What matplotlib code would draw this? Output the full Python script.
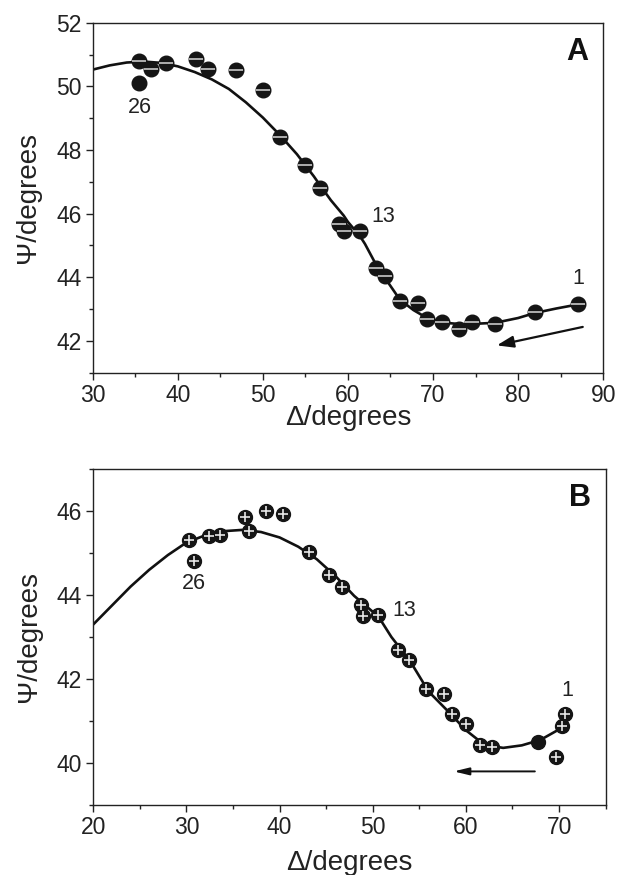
import matplotlib
matplotlib.use("Agg")
import matplotlib.pyplot as plt
from matplotlib.ticker import MultipleLocator

plt.rcParams['font.family'] = ['Liberation Sans', 'DejaVu Sans']

# panel A: measured points (Delta, Psi) in degrees
delta_a = [35.5, 36.9, 38.6, 42.1, 43.5, 46.9, 50.0, 52.0, 54.9, 56.7, 58.9, 59.5,
           61.4, 63.3, 64.3, 66.1, 68.2, 69.3, 71.0, 73.0, 74.6, 77.3, 82.0, 87.1]
psi_a = [50.81, 50.55, 50.73, 50.87, 50.55, 50.52, 49.89, 48.42, 47.53, 46.82, 45.68, 45.47,
         45.44, 44.29, 44.04, 43.26, 43.18, 42.69, 42.61, 42.38, 42.61, 42.52, 42.92, 43.15]
solid_a = (35.5, 50.11)

fit_delta_a = [30.2, 32, 34, 36, 38, 40, 42, 44, 46, 48, 50, 52, 54, 56, 56.7, 58, 59.5, 60,
               61.4, 62, 63.3, 64.3, 66.1, 67.7, 69.3, 71.1, 73.5, 77.3, 80, 82, 84.5, 87.1]
fit_psi_a = [50.54, 50.66, 50.75, 50.78, 50.74, 50.63, 50.45, 50.22, 49.92, 49.5, 49.02, 48.47,
             47.87, 47.17, 46.9, 46.42, 45.94, 45.74, 45.3, 45.05, 44.4, 44.0, 43.3, 42.97,
             42.72, 42.58, 42.52, 42.57, 42.72, 42.88, 43.02, 43.15]

# panel B
delta_b = [30.3, 30.8, 32.4, 33.6, 36.3, 36.7, 38.5, 40.35, 43.2, 45.3, 46.7, 48.7, 49.0,
           50.6, 52.7, 53.9, 55.7, 57.6, 58.5, 60.0, 61.5, 62.8, 69.7, 70.3, 70.6]
psi_b = [45.30, 44.80, 45.40, 45.44, 45.86, 45.52, 46.00, 45.94, 45.02, 44.48, 44.18, 43.77, 43.50,
         43.52, 42.70, 42.46, 41.76, 41.64, 41.16, 40.92, 40.42, 40.38, 40.14, 40.88, 41.16]
solid_b = (67.7, 40.5)

fit_delta_b = [20, 22, 24, 26, 28, 30, 32, 34, 36, 38, 40, 42, 44, 46, 48, 50, 51, 52, 54,
               56, 58, 60, 62, 64, 66, 68, 70, 70.8]
fit_psi_b = [43.3, 43.75, 44.2, 44.6, 44.95, 45.25, 45.42, 45.52, 45.55, 45.5, 45.37, 45.15,
             44.85, 44.45, 43.98, 43.6, 43.35, 43.0, 42.43, 41.7, 41.25, 40.78, 40.43, 40.36,
             40.42, 40.55, 40.8, 41.0]

fig = plt.figure(figsize=(6.18, 8.75), dpi=100)
ax_a = fig.add_axes([0.150, 0.574, 0.826, 0.400])
ax_b = fig.add_axes([0.151, 0.080, 0.829, 0.384])

INK = '#222222'


def style(ax, xlim, ylim, xmaj, xmin, ymaj, ymin, xpad):
    ax.set_xlim(*xlim)
    ax.set_ylim(*ylim)
    ax.xaxis.set_major_locator(MultipleLocator(xmaj))
    ax.xaxis.set_minor_locator(MultipleLocator(xmin))
    ax.yaxis.set_major_locator(MultipleLocator(ymaj))
    ax.yaxis.set_minor_locator(MultipleLocator(ymin))
    ax.tick_params(which='major', direction='out', length=5, width=1.0, labelsize=16.5,
                   colors=INK, pad=3)
    ax.tick_params(which='minor', direction='out', length=3, width=1.0, colors=INK)
    for sp in ax.spines.values():
        sp.set_linewidth(1.0)
        sp.set_color(INK)
    ax.set_xlabel('\u0394/degrees', fontsize=20, color=INK, labelpad=xpad)
    ax.set_ylabel('\u03a8/degrees', fontsize=20, color=INK, labelpad=11)


def dots(ax, xs, ys, inner, size):
    ax.plot(xs, ys, 'o', ms=size, color='#151515', mec='#151515', zorder=3)
    if inner == '_':
        ax.plot(xs, ys, '_', ms=size, mew=1.3, color='#bbbbbb', zorder=4)
    else:
        ax.plot(xs, ys, '+', ms=size * 0.7, mew=1.2, color='#e8e8e8', zorder=4)


# --- A ---
style(ax_a, (30, 90), (41, 52), 10, 5, 2, 1, xpad=-1)
ax_a.plot(fit_delta_a, fit_psi_a, '-', color='#111111', lw=1.9, zorder=2)
dots(ax_a, delta_a, psi_a, '_', 10.5)
ax_a.plot(*solid_a, 'o', ms=10.5, color='#151515', zorder=3)
ax_a.annotate('', xy=(77.5, 41.86), xytext=(87.6, 42.44),
              arrowprops=dict(arrowstyle='-|>,head_length=1.0,head_width=0.35',
                              color='#111111', lw=1.6, shrinkA=0, shrinkB=0))
ax_a.text(35.5, 49.33, '26', fontsize=15.5, ha='center', va='center', color=INK)
ax_a.text(64.1, 45.9, '13', fontsize=15.5, ha='center', va='center', color=INK)
ax_a.text(87.1, 43.95, '1', fontsize=15.5, ha='center', va='center', color=INK)
ax_a.text(87.0, 51.08, 'A', fontsize=22, fontweight='bold', ha='center', va='center',
          color='#111111')

# --- B ---
style(ax_b, (20, 75), (39, 47), 10, 5, 2, 1, xpad=8)
ax_b.plot(fit_delta_b, fit_psi_b, '-', color='#111111', lw=1.9, zorder=2)
dots(ax_b, delta_b, psi_b, '+', 10)
ax_b.plot(*solid_b, 'o', ms=10, color='#151515', zorder=3)
ax_b.annotate('', xy=(58.7, 39.8), xytext=(67.4, 39.8),
              arrowprops=dict(arrowstyle='-|>,head_length=0.9,head_width=0.22',
                              color='#111111', lw=1.4, shrinkA=0, shrinkB=0))
ax_b.text(30.8, 44.28, '26', fontsize=15.5, ha='center', va='center', color=INK)
ax_b.text(53.4, 43.64, '13', fontsize=15.5, ha='center', va='center', color=INK)
ax_b.text(70.9, 41.72, '1', fontsize=15.5, ha='center', va='center', color=INK)
ax_b.text(72.3, 46.3, 'B', fontsize=22, fontweight='bold', ha='center', va='center',
          color='#111111')

fig.savefig('out.png', dpi=100)
